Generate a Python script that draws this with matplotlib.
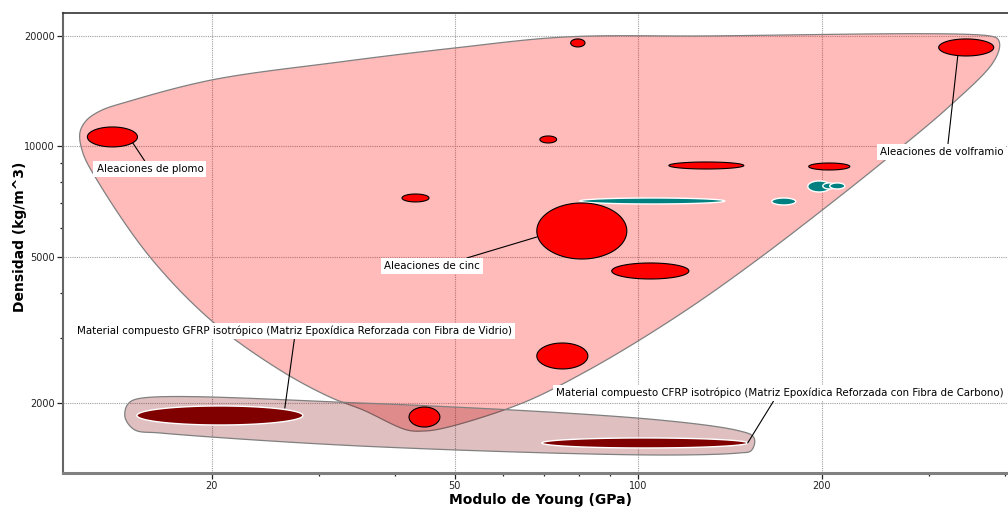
import numpy as np
import matplotlib
matplotlib.use("Agg")
import matplotlib.pyplot as plt
from matplotlib.ticker import NullFormatter

# --- data (Young's modulus in GPa, density in kg/m^3) ---
# non-ferrous alloys (red bubbles)
red_E_lo = [12.5, 77.5, 69.0, 41.0, 68.2, 90.5, 112.3, 190.4, 311.0, 68.2, 42.1]
red_E_hi = [15.1, 81.8, 73.5, 45.4, 95.8, 121.1, 149.0, 222.3, 382.8, 82.7, 47.3]
red_rho_lo = [9970, 18670, 10220, 7060, 4935, 4354, 8681, 8627, 17640, 2476, 1720]
red_rho_hi = [11300, 19630, 10680, 7420, 7014, 4814, 9071, 9014, 19630, 2914, 1950]

# ferrous alloys (teal bubbles)
teal_E_lo = [80.2, 165.6, 189.7, 200.8, 206.1]
teal_E_hi = [138.7, 181.3, 206.9, 210.9, 218.2]
teal_rho_lo = [6970, 6927, 7515, 7658, 7658]
teal_rho_hi = [7237, 7237, 8054, 7953, 7953]

# composites (GFRP, CFRP)
comp_E_lo = [15.07, 69.5]
comp_E_hi = [28.2, 151.2]
comp_rho_lo = [1742, 1508]
comp_rho_hi = [1963, 1606]

# envelope outlines
metal_env_E = [12.15, 12.43, 13.11, 14.68, 20.0, 32.4, 50.05, 75.8, 126.2, 377.1,
               388.6, 391.5, 381.4, 324.3, 251.8, 198.5, 158.2, 126.2, 100.6, 81.8,
               66.4, 55.0, 47.3, 44.7, 41.8, 35.4, 31.2, 25.85, 20.08, 15.83, 12.96, 12.29]
metal_env_rho = [10880, 11735, 12490, 13300, 15180, 16990, 18550, 19870, 20000, 20000,
                 19630, 18780, 16880, 12890, 9071, 6628, 4967, 3793, 2970, 2429,
                 2038, 1820, 1699, 1678, 1688, 1914, 2077, 2460, 3325, 4998, 8105, 9600]
comp_env_E = [15.07, 34.96, 108.5, 146.7, 154.1, 155.3, 153.0, 146.7, 108.5, 34.96,
              16.44, 14.96, 14.46, 14.40, 14.57]
comp_env_rho = [2051, 2000, 1797, 1678, 1626, 1566, 1480, 1462, 1443, 1527,
                1657, 1688, 1797, 1890, 1987]

# labels
label_text = ["Aleaciones de plomo", "Aleaciones de cinc", "Aleaciones de volframio",
              "Material compuesto GFRP isotrópico (Matriz Epoxídica Reforzada con Fibra de Vidrio)",
              "Material compuesto CFRP isotrópico (Matriz Epoxídica Reforzada con Fibra de Carbono)"]
label_pt_E = [14.84, 68.2, 334.2, 26.34, 151.2]
label_pt_rho = [10220, 5666, 17640, 1938, 1556]
label_txt_E = [15.83, 45.9, 248.9, 27.35, 170.7]
label_txt_rho = [8681, 4724, 9660, 3143, 2130]
label_ha = ["center", "center", "left", "center", "center"]
label_relpos = [(0.47, 1), (0.76, 1), (0.55, 1), (0.5, 0), (0.49, 0)]

x_major = [20, 50, 100, 200]
x_minor = [30, 40, 60, 70, 80, 90, 300, 400]
y_major = [2000, 5000, 10000, 20000]
y_minor = [3000, 4000, 6000, 7000, 8000, 9000]


def catmull_closed(pts, n=25):
    out = []
    k = len(pts)
    for i in range(k):
        p0, p1, p2, p3 = pts[i - 1], pts[i], pts[(i + 1) % k], pts[(i + 2) % k]
        t0 = 0.0
        t1 = t0 + np.linalg.norm(p1 - p0) ** 0.5
        t2 = t1 + np.linalg.norm(p2 - p1) ** 0.5
        t3 = t2 + np.linalg.norm(p3 - p2) ** 0.5
        t = np.linspace(t1, t2, n, endpoint=False)[:, None]
        a1 = (t1 - t) / (t1 - t0) * p0 + (t - t0) / (t1 - t0) * p1
        a2 = (t2 - t) / (t2 - t1) * p1 + (t - t1) / (t2 - t1) * p2
        a3 = (t3 - t) / (t3 - t2) * p2 + (t - t2) / (t3 - t2) * p3
        b1 = (t2 - t) / (t2 - t0) * a1 + (t - t0) / (t2 - t0) * a2
        b2 = (t3 - t) / (t3 - t1) * a2 + (t - t1) / (t3 - t1) * a3
        out.append((t2 - t) / (t2 - t1) * b1 + (t - t1) / (t2 - t1) * b2)
    return np.vstack(out)


def envelope(ax, E, rho, fc, z):
    disp = ax.transData.transform(np.column_stack([E, rho]))
    smooth = ax.transData.inverted().transform(catmull_closed(disp))
    ax.fill(smooth[:, 0], smooth[:, 1], fc=fc, ec="#808080", lw=0.9, zorder=z)


def bubble(ax, elo, ehi, rlo, rhi, fc, ec, lw, z):
    t = np.linspace(0, 2 * np.pi, 160)
    cx = (np.log10(elo) + np.log10(ehi)) / 2
    rx = (np.log10(ehi) - np.log10(elo)) / 2
    cy = (np.log10(rlo) + np.log10(rhi)) / 2
    ry = (np.log10(rhi) - np.log10(rlo)) / 2
    ax.fill(10 ** (cx + rx * np.cos(t)), 10 ** (cy + ry * np.sin(t)),
            fc=fc, ec=ec, lw=lw, zorder=z)


fig = plt.figure(figsize=(10.08, 5.09), dpi=100)
ax = fig.add_axes([63 / 1008, 36 / 509, 945 / 1008, 460 / 509])
ax.set_xscale("log")
ax.set_yscale("log")
ax.set_xlim(11.4, 404)
ax.set_ylim(1289, 23100)

# envelopes
envelope(ax, metal_env_E, metal_env_rho, (1, 0, 0, 0.27), 2)
envelope(ax, comp_env_E, comp_env_rho, (0.5, 0, 0, 0.25), 3)

# bubbles
for i in range(len(red_E_lo)):
    bubble(ax, red_E_lo[i], red_E_hi[i], red_rho_lo[i], red_rho_hi[i],
           "#ff0000", "black", 0.8, 5)
for i in range(len(teal_E_lo)):
    bubble(ax, teal_E_lo[i], teal_E_hi[i], teal_rho_lo[i], teal_rho_hi[i],
           "#008080", "white", 1.0, 4)
for i in range(len(comp_E_lo)):
    bubble(ax, comp_E_lo[i], comp_E_hi[i], comp_rho_lo[i], comp_rho_hi[i],
           "#800000", "white", 1.0, 4)

# labels with leader lines
for i in range(len(label_text)):
    ax.annotate(label_text[i], xy=(label_pt_E[i], label_pt_rho[i]),
                xytext=(label_txt_E[i], label_txt_rho[i]), textcoords="data",
                ha=label_ha[i], va="center", fontsize=7.4, color="black",
                bbox=dict(boxstyle="square,pad=0.3", fc="white", ec="none"),
                arrowprops=dict(arrowstyle="-", color="black", lw=0.8,
                                shrinkA=0, shrinkB=0, relpos=label_relpos[i]),
                zorder=8, annotation_clip=False)

# ticks and grid
ax.set_xticks(x_major)
ax.set_xticklabels([str(v) for v in x_major])
ax.set_xticks(x_minor, minor=True)
ax.set_yticks(y_major)
ax.set_yticklabels([str(v) for v in y_major])
ax.set_yticks(y_minor, minor=True)
ax.xaxis.set_minor_formatter(NullFormatter())
ax.yaxis.set_minor_formatter(NullFormatter())
ax.tick_params(which="both", direction="out", colors="#222222", labelsize=7,
               width=0.9)
ax.tick_params(which="major", length=4, pad=2)
ax.tick_params(which="minor", length=2.5)
ax.grid(True, which="major", color="#a0a0a0", linestyle=(0, (1, 1)), lw=0.8)
ax.set_axisbelow(True)

ax.spines["right"].set_visible(False)
ax.spines["top"].set_color("#333333")
ax.spines["top"].set_linewidth(1.2)
ax.spines["left"].set_color("#666666")
ax.spines["left"].set_linewidth(1.5)
ax.spines["bottom"].set_color("#808080")
ax.spines["bottom"].set_linewidth(2.2)

ax.set_xlabel("Modulo de Young (GPa)", fontsize=10, fontweight="bold")
ax.set_ylabel("Densidad (kg/m^3)", fontsize=10, fontweight="bold")
ax.xaxis.set_label_coords(0.505, -0.043)
ax.yaxis.set_label_coords(-0.038, 0.513)

plt.savefig("out.png", dpi=100)
